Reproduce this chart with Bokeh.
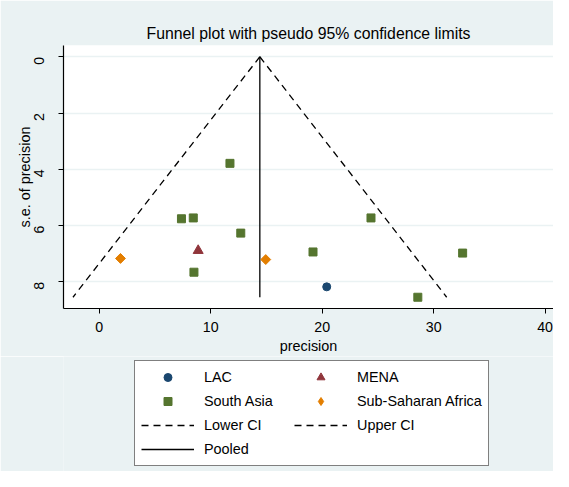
import math
from bokeh.plotting import figure
from bokeh.layouts import column
from bokeh.models import Range1d, Legend, LegendItem, FixedTicker
from bokeh.embed import file_html
from bokeh.resources import INLINE

# ---- data ----
lac_x = [20.41]
lac_se = [8.18]
mena_x = [8.88]
mena_se = [6.89]
sa_x = [11.73, 7.38, 8.44, 12.70, 8.50, 24.38, 19.18, 32.60, 28.58]
sa_se = [3.79, 5.76, 5.73, 6.27, 7.66, 5.73, 6.94, 6.98, 8.55]
ssa_x = [1.91, 14.94]
ssa_se = [7.17, 7.21]
ci_se = [0.0, 8.55]
lower_ci = [14.41, -2.35]
upper_ci = [14.41, 31.17]
pooled_x = [14.41, 14.41]
x_ticks = [0, 10, 20, 30, 40]
y_ticks = [0, 2, 4, 6, 8]
legend_labels = ["LAC", "MENA", "South Asia", "Sub-Saharan Africa",
                 "Lower CI", "Upper CI", "Pooled"]

FONT = "Liberation Sans"
BG = "#eaf2f3"
C_LAC, C_MENA, C_SA, C_SSA = "#1a476f", "#90353b", "#55752f", "#e37e00"
DASH = "7 5"

p = figure(width=553, height=356, output_backend="svg", toolbar_location=None,
           x_range=Range1d(-3.2, 40.75), y_range=Range1d(8.95, -0.40),
           min_border_left=63, min_border_right=0, min_border_top=45,
           min_border_bottom=47, background_fill_color="white",
           border_fill_color=BG, outline_line_color=None)

p.title.text = "Funnel plot with pseudo 95% confidence limits"
p.title.align = "center"
p.title.text_font = FONT
p.title.text_font_size = "15.8px"
p.title.text_font_style = "normal"
p.title.text_color = "black"
p.title.standoff = 7

for ax in (p.xaxis[0], p.yaxis[0]):
    ax.axis_line_color = "black"
    ax.axis_line_width = 1.2
    ax.major_tick_line_color = "black"
    ax.major_tick_in = 0
    ax.major_tick_out = 5
    ax.minor_tick_line_color = None
    ax.major_label_text_font = FONT
    ax.major_label_text_font_size = "14.2px"
    ax.major_label_text_color = "black"
    ax.axis_label_text_font = FONT
    ax.axis_label_text_font_size = "14.4px"
    ax.axis_label_text_font_style = "normal"
    ax.axis_label_text_color = "black"

p.xaxis.ticker = FixedTicker(ticks=x_ticks)
p.yaxis.ticker = FixedTicker(ticks=y_ticks)
p.xaxis.axis_label = "precision"
p.yaxis.axis_label = "s.e. of precision"
p.xaxis.major_label_standoff = 8
p.xaxis.axis_label_standoff = 3
p.yaxis.major_label_orientation = math.pi / 2
p.yaxis.major_label_standoff = 19
p.yaxis.axis_label_standoff = -6

p.xgrid.grid_line_color = None
p.ygrid.grid_line_color = BG
p.ygrid.grid_line_width = 1.5

p.line(lower_ci, ci_se, line_color="black", line_width=1.3, line_dash=DASH)
p.line(upper_ci, ci_se, line_color="black", line_width=1.3, line_dash=DASH)
p.line(pooled_x, ci_se, line_color="black", line_width=1.3)

p.scatter(lac_x, lac_se, marker="circle", size=8, fill_color=C_LAC, line_color=C_LAC)
p.scatter(mena_x, mena_se, marker="triangle", size=10, fill_color=C_MENA, line_color=C_MENA)
p.scatter(sa_x, sa_se, marker="square", size=8, fill_color=C_SA, line_color=C_SA)
p.scatter(ssa_x, ssa_se, marker="square", angle=math.pi / 4, size=7, fill_color=C_SSA, line_color=C_SSA)

# ---- legend panel (separate figure below the plot; its ranges keep the
# ---- proxy glyphs out of view so only their legend swatches show) ----
lg = figure(width=553, height=115, output_backend="svg", toolbar_location=None,
            x_range=Range1d(1000, 1001), y_range=Range1d(1000, 1001),
            x_axis_location=None, y_axis_location=None,
            min_border_left=0, min_border_right=0, min_border_top=0,
            min_border_bottom=0, background_fill_color=BG,
            border_fill_color=BG, outline_line_color=None)
lg.xgrid.visible = False
lg.ygrid.visible = False

d_lac = lg.scatter(lac_x, lac_se, marker="circle", size=8, fill_color=C_LAC, line_color=C_LAC)
d_mena = lg.scatter(mena_x, mena_se, marker="triangle", size=10, fill_color=C_MENA, line_color=C_MENA)
d_sa = lg.scatter(sa_x, sa_se, marker="square", size=8, fill_color=C_SA, line_color=C_SA)
d_ssa = lg.scatter(ssa_x, ssa_se, marker="diamond", size=12, fill_color=C_SSA, line_color=C_SSA)
d_low = lg.line(lower_ci, ci_se, line_color="black", line_width=1.3, line_dash=DASH)
d_up = lg.line(upper_ci, ci_se, line_color="black", line_width=1.3, line_dash=DASH)
d_pool = lg.line(pooled_x, ci_se, line_color="black", line_width=1.3)
rends = [d_lac, d_mena, d_sa, d_ssa, d_low, d_up, d_pool]

legend = Legend(items=[LegendItem(label=lab, renderers=[r]) for lab, r in zip(legend_labels, rends)],
                orientation="horizontal", ncols=2, location=(71, 5))
legend.label_text_font = FONT
legend.label_text_font_size = "14.4px"
legend.label_text_color = "black"
legend.glyph_width = 53
legend.glyph_height = 20
legend.label_standoff = 10
legend.label_width = 86
legend.spacing = 4
legend.padding = 6
legend.margin = 0
legend.border_line_color = "black"
legend.border_line_width = 1
legend.background_fill_color = "white"
legend.background_fill_alpha = 1
lg.add_layout(legend, "center")

layout = column(p, lg, spacing=0)
open("out.html", "w").write(file_html(layout, INLINE))
